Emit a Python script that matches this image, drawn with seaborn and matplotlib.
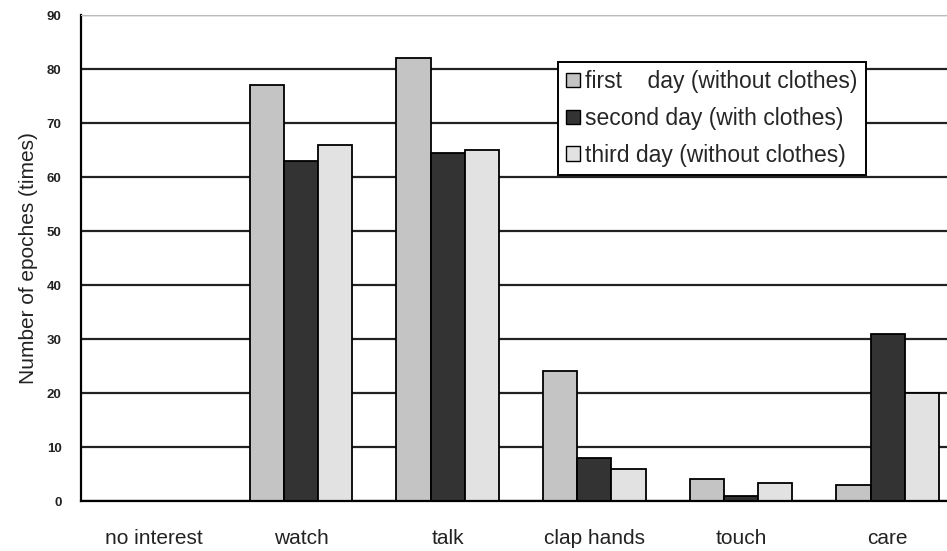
import numpy as np
import pandas as pd
import matplotlib
matplotlib.use('Agg')
import matplotlib.pyplot as plt
import seaborn as sns

categories = ['no interest', 'watch', 'talk', 'clap hands', 'touch', 'care']
series_names = ['first    day (without clothes)',
                'second day (with clothes)',
                'third day (without clothes)']
first_day = [0, 77, 82, 24, 4, 3]
second_day = [0, 63, 64.5, 8, 1, 31]
third_day = [0, 66, 65, 6, 3.3, 20]
y_ticks = [0, 10, 20, 30, 40, 50, 60, 70, 80, 90]

colors = ['#c4c4c4', '#333333', '#e2e2e2']

df = pd.DataFrame({
    'category': categories * 3,
    'day': [series_names[0]] * 6 + [series_names[1]] * 6 + [series_names[2]] * 6,
    'value': first_day + second_day + third_day,
})

sns.set_style('white')
plt.rcParams['font.family'] = ['Liberation Sans', 'DejaVu Sans']

fig = plt.figure(figsize=(9.47, 5.51), dpi=100)
ax = fig.add_axes([81 / 947, 50 / 551, 880 / 947, 486 / 551])

sns.barplot(data=df, x='category', y='value', hue='day', palette=colors,
            width=0.7, edgecolor='black', linewidth=1.3, ax=ax)

ax.set_ylim(0, 90)
ax.set_xlim(-0.5, len(categories) - 0.5)
ax.set_yticks(y_ticks)
ax.set_yticklabels([str(t) for t in y_ticks], fontsize=9.5, fontweight='bold', color='#222222')
ax.yaxis.grid(True, color='#222222', linewidth=1.6)
ax.set_axisbelow(True)

# category separators on the x axis
ax.set_xticks(np.arange(len(categories) + 1) - 0.5, minor=True)
ax.tick_params(axis='x', which='minor', direction='in', length=4, width=1.2, color='black')
ax.tick_params(axis='x', which='major', length=0, labelsize=15, pad=20, labelcolor='#222222')
ax.tick_params(axis='y', length=0, pad=14)

ax.set_xlabel('')
ax.set_ylabel('Number of epoches (times)', fontsize=15, color='#222222', labelpad=6)

for s in ['left', 'bottom']:
    ax.spines[s].set_color('black')
    ax.spines[s].set_linewidth(1.6)
ax.spines['top'].set_color('#bbbbbb')
ax.spines['right'].set_visible(False)

leg = ax.legend(loc='upper left', bbox_to_anchor=(0.542, 0.903), fontsize=16.5,
                frameon=True, fancybox=False, edgecolor='black', framealpha=1,
                handlelength=0.6, handleheight=0.6, handletextpad=0.25,
                labelspacing=0.6, borderpad=0.35, borderaxespad=0)
leg.get_frame().set_linewidth(1.4)
for h in leg.legend_handles:
    h.set_edgecolor('black')
    h.set_linewidth(1)

fig.savefig('out.png', dpi=100)
